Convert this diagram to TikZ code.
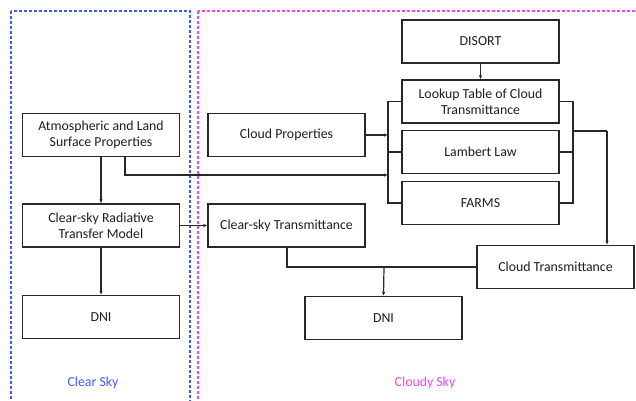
\documentclass[tikz,border=0pt]{standalone}
\usepackage{fontspec}
\setmainfont{Carlito}
\usetikzlibrary{arrows.meta}
\definecolor{linec}{RGB}{40,40,40}
\definecolor{textc}{RGB}{30,30,30}
\definecolor{skyblue}{RGB}{60,95,235}
\definecolor{skypink}{RGB}{240,70,240}
\tikzset{
  box/.style={draw=linec, line width=1.3pt, minimum width=157pt, minimum height=43pt, align=center, text=textc, font=\fontsize{13.8}{16}\selectfont, inner sep=2pt},
  conn/.style={draw=linec, line width=1.2pt},
  arr/.style={conn, -{Latex[length=4pt,width=3.5pt]}},
  region/.style={dashed, line width=1.3pt, dash pattern=on 3pt off 2pt}
}
\begin{document}
\begin{tikzpicture}[x=1pt,y=-1pt]
\useasboundingbox (0,0) rectangle (636,400);
\clip (0,0) rectangle (636,400);
\draw[region, draw=skyblue] (11,11) rectangle (190,410);
\draw[region, draw=skypink] (198,11) rectangle (645,410);
\node[text=skyblue, font=\fontsize{13.8}{16}\selectfont] (lc) at (93,383) {Clear Sky};
\node[text=skypink, font=\fontsize{13.8}{16}\selectfont] (lr) at (425,383) {Cloudy Sky};

\node[box] (atm) at (101,135) {Atmospheric and Land\\Surface Properties};
\node[box] (rtm) at (101,225.5) {Clear-sky Radiative\\Transfer Model};
\node[box] (dnil) at (101,317) {DNI};
\node[box] (cp) at (286.5,135) {Cloud Properties};
\node[box] (cst) at (286.5,225.5) {Clear-sky Transmittance};
\node[box] (dis) at (480.5,41.5) {DISORT};
\node[box] (lut) at (480.5,101.5) {Lookup Table of Cloud\\Transmittance};
\node[box] (lam) at (480.5,152) {Lambert Law};
\node[box] (farms) at (480.5,203) {FARMS};
\node[box] (ct) at (555.5,267) {Cloud Transmittance};
\node[box] (dnir) at (383.5,318) {DNI};

\coordinate (lbx) at (388,0);
\coordinate (rbx) at (573,0);
\coordinate (cx) at (607,131);
\coordinate (j) at (384,267);

% left column
\draw[arr] (atm) -- (rtm);
\draw[arr] (rtm) -- (dnil);
\draw[arr] (rtm.east) -- (cst.west);
\draw[arr] (dis) -- (lut);

% left bracket
\draw[conn] (lut.west) -| (lbx |- farms.west) -- (farms.west);
\draw[conn] (lam.west) -- (lbx |- lam.west);
\draw[arr] (cp.east) -- (lbx |- cp.east);
\draw[arr] (atm.south -| 125,0) |- (lbx |- 0,175);

% right bracket
\draw[conn] (lut.east) -| (rbx |- farms.east) -- (farms.east);
\draw[conn] (lam.east) -- (rbx |- lam.east);
\draw[conn] (rbx |- cx) -- (cx);
\draw[arr] (cx) -- (cx |- ct.north);

% bottom
\draw[conn] (cst.south -| 287,0) |- (ct.west);
\draw[arr] (j) -- (dnir.north);
\end{tikzpicture}
\end{document}
